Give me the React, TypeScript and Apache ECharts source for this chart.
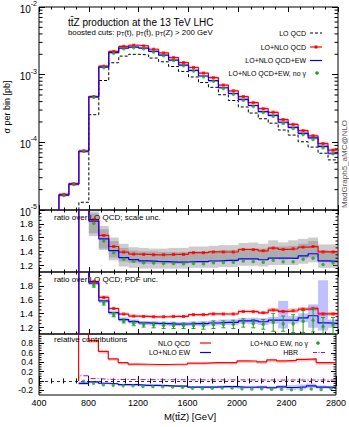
import React, { useEffect, useRef } from 'react';
import * as echarts from 'echarts';

const FONT = '"Liberation Sans", Arial, Helvetica, sans-serif';

// ---------- binning ----------
const binLow = [560, 640, 720, 800, 880, 960, 1040, 1120, 1200, 1280, 1360, 1440, 1520, 1600, 1680, 1760, 1840, 1920, 2000, 2080, 2160, 2240, 2320, 2400, 2480, 2560, 2640, 2720];
const X_MIN = 400;
const X_MAX = 2800;
const xTickStep = 400;

// ---------- main panel: sigma per bin [pb] ----------
const loQCD = [0, 0, 1.3e-5, 2.56e-4, 8.2e-4, 1.5e-3, 1.88e-3, 2.0e-3, 1.96e-3, 1.76e-3, 1.55e-3, 1.32e-3, 1.115e-3, 9.25e-4, 7.65e-4, 6.5e-4, 5.05e-4, 4.15e-4, 3.33e-4, 2.71e-4, 2.23e-4, 1.92e-4, 1.52e-4, 1.28e-4, 1.02e-4, 8.5e-5, 6.9e-5, 5.5e-5];
const nloQCD = [1.7e-5, 2.45e-5, 7.45e-5, 4.76e-4, 1.337e-3, 2.205e-3, 2.613e-3, 2.72e-3, 2.656e-3, 2.376e-3, 2.093e-3, 1.789e-3, 1.511e-3, 1.277e-3, 1.056e-3, 9.04e-4, 7.02e-4, 5.77e-4, 4.75e-4, 3.86e-4, 3.14e-4, 2.78e-4, 2.17e-4, 1.84e-4, 1.49e-4, 1.25e-4, 9.6e-5, 7.65e-5];
const nloQCDEW = [1.66e-5, 2.41e-5, 7.38e-5, 4.71e-4, 1.296e-3, 2.115e-3, 2.463e-3, 2.56e-3, 2.47e-3, 2.209e-3, 1.938e-3, 1.643e-3, 1.388e-3, 1.156e-3, 9.56e-4, 8.19e-4, 6.41e-4, 5.27e-4, 4.3e-4, 3.5e-4, 2.85e-4, 2.5e-4, 1.98e-4, 1.66e-4, 1.36e-4, 1.16e-4, 8.7e-5, 6.9e-5];
const nloQCDEWnoGamma = [1.64e-5, 2.38e-5, 7.44e-5, 4.63e-4, 1.271e-3, 2.07e-3, 2.425e-3, 2.51e-3, 2.421e-3, 2.165e-3, 1.899e-3, 1.617e-3, 1.36e-3, 1.133e-3, 9.33e-4, 8.03e-4, 6.26e-4, 5.15e-4, 4.2e-4, 3.39e-4, 2.77e-4, 2.44e-4, 1.9e-4, 1.6e-4, 1.31e-4, 1.105e-4, 8.35e-5, 6.77e-5];
const mainUncQCD = [0.06, 0.06, 0.06, 0.05, 0.04, 0.04, 0.04, 0.04, 0.04, 0.04, 0.04, 0.04, 0.045, 0.045, 0.045, 0.045, 0.05, 0.05, 0.05, 0.05, 0.05, 0.055, 0.055, 0.055, 0.06, 0.06, 0.06, 0.06];
const mainUncEW = [0.05, 0.05, 0.05, 0.04, 0.035, 0.035, 0.035, 0.035, 0.035, 0.035, 0.035, 0.035, 0.04, 0.04, 0.04, 0.04, 0.045, 0.045, 0.045, 0.045, 0.045, 0.05, 0.05, 0.05, 0.055, 0.055, 0.055, 0.055];
const logDecades = [-5, -4, -3, -2];

// ---------- panel 2: ratio over LO QCD, scale uncertainty ----------
const scaleQCDLow = [null, null, null, 1.62, 1.44, 1.31, 1.25, 1.23, 1.22, 1.22, 1.22, 1.22, 1.22, 1.24, 1.24, 1.25, 1.25, 1.25, 1.28, 1.28, 1.27, 1.3, 1.28, 1.29, 1.3, 1.31, 1.24, 1.24];
const scaleQCDHigh = [null, null, null, 1.95, 1.77, 1.6, 1.51, 1.46, 1.45, 1.44, 1.44, 1.45, 1.45, 1.47, 1.47, 1.48, 1.49, 1.49, 1.52, 1.53, 1.51, 1.56, 1.53, 1.56, 1.58, 1.6, 1.5, 1.5];
const scaleEWLow = [null, null, null, 1.66, 1.42, 1.27, 1.18, 1.16, 1.15, 1.15, 1.15, 1.15, 1.15, 1.16, 1.16, 1.16, 1.17, 1.17, 1.19, 1.19, 1.18, 1.2, 1.2, 1.2, 1.22, 1.24, 1.16, 1.16];
const scaleEWHigh = [null, null, null, 1.98, 1.72, 1.55, 1.45, 1.41, 1.4, 1.4, 1.39, 1.39, 1.39, 1.4, 1.4, 1.41, 1.42, 1.42, 1.45, 1.45, 1.44, 1.47, 1.47, 1.48, 1.51, 1.55, 1.42, 1.41];
const ratioTicks = [1.2, 1.4, 1.6, 1.8];

// ---------- panel 3: ratio over LO QCD, PDF uncertainty ----------
const pdfQCDLow = [null, null, null, 1.84, 1.61, 1.45, 1.37, 1.34, 1.335, 1.33, 1.33, 1.335, 1.335, 1.36, 1.36, 1.37, 1.37, 1.37, 1.4, 1.4, 1.39, 1.42, 1.4, 1.41, 1.43, 1.44, 1.36, 1.36];
const pdfQCDHigh = [null, null, null, 1.89, 1.66, 1.49, 1.41, 1.38, 1.375, 1.37, 1.37, 1.375, 1.375, 1.4, 1.4, 1.41, 1.41, 1.41, 1.45, 1.45, 1.43, 1.48, 1.45, 1.47, 1.49, 1.5, 1.42, 1.42];
const pdfEWLow = [null, null, null, 1.81, 1.55, 1.38, 1.28, 1.25, 1.23, 1.225, 1.22, 1.215, 1.215, 1.22, 1.215, 1.225, 1.23, 1.23, 1.25, 1.245, 1.23, 1.25, 1.18, 1.25, 1.27, 1.19, 1.15, 1.19];
const pdfEWHigh = [null, null, null, 1.87, 1.61, 1.44, 1.34, 1.31, 1.29, 1.285, 1.28, 1.275, 1.275, 1.28, 1.285, 1.295, 1.31, 1.31, 1.33, 1.335, 1.33, 1.35, 1.58, 1.36, 1.4, 1.53, 1.88, 1.31];
const noGammaErrLow = [null, null, null, 1.78, 1.52, 1.35, 1.26, 1.22, 1.2, 1.19, 1.18, 1.18, 1.18, 1.18, 1.17, 1.18, 1.19, 1.18, 1.2, 1.19, 1.17, 1.14, 1.14, 1.12, 1.12, 1.13, 1.08, 1.1];
const noGammaErrHigh = [null, null, null, 1.84, 1.58, 1.41, 1.32, 1.29, 1.27, 1.27, 1.27, 1.27, 1.26, 1.27, 1.27, 1.29, 1.29, 1.3, 1.32, 1.31, 1.31, 1.4, 1.36, 1.38, 1.44, 1.47, 1.34, 1.34];

// ---------- panel 4: relative contributions ----------
const hbrRel = [null, null, 0.11, 0.05, 0.035, 0.03, 0.03, 0.028, 0.027, 0.026, 0.025, 0.025, 0.024, 0.024, 0.023, 0.023, 0.022, 0.022, 0.022, 0.021, 0.021, 0.02, 0.02, 0.02, 0.02, 0.02, 0.02, 0.02];
const relUncQCD = [null, null, null, 0.05, 0.05, 0.04, 0.04, 0.04, 0.04, 0.04, 0.04, 0.04, 0.04, 0.04, 0.04, 0.04, 0.04, 0.04, 0.045, 0.045, 0.045, 0.05, 0.05, 0.05, 0.05, 0.05, 0.05, 0.05];
const relUncEW = [null, null, 0.03, 0.02, 0.02, 0.02, 0.02, 0.02, 0.02, 0.02, 0.02, 0.02, 0.02, 0.02, 0.02, 0.025, 0.025, 0.025, 0.03, 0.03, 0.03, 0.03, 0.035, 0.05, 0.05, 0.05, 0.035, 0.03];
const relTicks = [-0.2, 0, 0.2, 0.4, 0.6, 0.8];

// ---------- derived ----------
const N = binLow.length;
const binHigh = binLow.map((_, i) => (i < N - 1 ? binLow[i + 1] : X_MAX));
const binMid = binLow.map((v, i) => (v + binHigh[i]) / 2);
const overLO = (arr: number[]) => arr.map((v, i) => (loQCD[i] > 0 ? v / loQCD[i] : null));
const ratioQCD = overLO(nloQCD);
const ratioEW = overLO(nloQCDEW);
const ratioNoGamma = overLO(nloQCDEWnoGamma);
const relQCD = nloQCD.map((v, i) => (loQCD[i] > 0 ? (v - loQCD[i]) / loQCD[i] : null));
const relEW = nloQCDEW.map((v, i) => (loQCD[i] > 0 ? (v - nloQCD[i]) / loQCD[i] : null));
const relNoGamma = nloQCDEWnoGamma.map((v, i) => (loQCD[i] > 0 ? (v - nloQCD[i]) / loQCD[i] : null));
const loQCDPlot = loQCD.map((v) => (v > 0 ? v : null));

const RED = '#ff0000';
const BLUE = '#0000ff';
const GREEN = '#1fa01f';
const PURPLE = '#c000c0';

function stepData(vals: (number | null)[], base?: number) {
  const pts: number[][] = [];
  let last = -1;
  vals.forEach((v, i) => {
    if (v == null) return;
    if (last < 0 && base !== undefined) pts.push([binLow[i], base]);
    pts.push([binLow[i], v]);
    last = i;
  });
  if (last >= 0) pts.push([binHigh[last], vals[last] as number]);
  return pts;
}

function stepLine(ai: number, data: number[][], color: string, width: number, type: any, z: number) {
  return {
    type: 'line', xAxisIndex: ai, yAxisIndex: ai, data, step: 'end', symbol: 'none', silent: true,
    z, clip: true, lineStyle: { color, width, type },
  };
}

function points(ai: number, vals: (number | null)[], color: string, symbol: string, size: number, z: number) {
  const data: number[][] = [];
  vals.forEach((v, i) => { if (v != null) data.push([binMid[i], v]); });
  return { type: 'scatter', xAxisIndex: ai, yAxisIndex: ai, data, symbol, symbolSize: size, itemStyle: { color }, z, silent: true, clip: true };
}

function band(ai: number, lo: (number | null)[], hi: (number | null)[], color: string, z: number) {
  const data: number[][] = [];
  lo.forEach((l, i) => { const h = hi[i]; if (l != null && h != null) data.push([binLow[i], binHigh[i], l, h]); });
  return {
    type: 'custom', xAxisIndex: ai, yAxisIndex: ai, silent: true, z, clip: true,
    encode: { x: [0, 1], y: [2, 3] }, data,
    renderItem: (_p: any, api: any) => {
      const a = api.coord([api.value(0), api.value(3)]);
      const b = api.coord([api.value(1), api.value(2)]);
      return { type: 'rect', shape: { x: a[0], y: a[1], width: b[0] - a[0], height: b[1] - a[1] }, style: { fill: color } };
    },
  };
}

function errorBars(ai: number, lo: (number | null)[], hi: (number | null)[], color: string, z: number) {
  const data: number[][] = [];
  lo.forEach((l, i) => { const h = hi[i]; if (l != null && h != null) data.push([binMid[i], l, h]); });
  return {
    type: 'custom', xAxisIndex: ai, yAxisIndex: ai, silent: true, z, clip: true,
    encode: { x: 0, y: [1, 2] }, data,
    renderItem: (_p: any, api: any) => {
      const a = api.coord([api.value(0), api.value(2)]);
      const b = api.coord([api.value(0), api.value(1)]);
      const st = { stroke: color, lineWidth: 1 };
      return {
        type: 'group', children: [
          { type: 'line', shape: { x1: a[0], y1: a[1], x2: b[0], y2: b[1] }, style: st },
          { type: 'line', shape: { x1: a[0] - 2, y1: a[1], x2: a[0] + 2, y2: a[1] }, style: st },
          { type: 'line', shape: { x1: b[0] - 2, y1: b[1], x2: b[0] + 2, y2: b[1] }, style: st },
        ],
      };
    },
  };
}

function minorTicks(ai: number, values: number[], len: number) {
  return {
    type: 'custom', xAxisIndex: ai, yAxisIndex: ai, silent: true, z: 30, clip: false,
    encode: { x: 0, y: 1 }, data: values.map((v) => [X_MIN, v]),
    renderItem: (_p: any, api: any) => {
      const v = api.value(1);
      const l = api.coord([X_MIN, v]);
      const r = api.coord([X_MAX, v]);
      const st = { stroke: '#000', lineWidth: 1 };
      return {
        type: 'group', children: [
          { type: 'line', shape: { x1: l[0], y1: l[1], x2: l[0] + len, y2: l[1] }, style: st },
          { type: 'line', shape: { x1: r[0] - len, y1: r[1], x2: r[0], y2: r[1] }, style: st },
        ],
      };
    },
  };
}

function linearMinor(minK: number, maxK: number) {
  const out: number[] = [];
  for (let k = minK + 1; k < maxK; k++) if (k % 4 !== 0) out.push(k * 0.05);
  return out;
}

function logMinor() {
  const out: number[] = [];
  for (let d = logDecades[0]; d < logDecades[logDecades.length - 1]; d++) for (let m = 2; m <= 9; m++) out.push(m * Math.pow(10, d));
  return out;
}

function buildOption() {
  const panels = [
    { top: 6, height: 204 },
    { top: 210, height: 62 },
    { top: 272, height: 62 },
    { top: 334, height: 61 },
  ];
  const grid = panels.map((p) => ({ left: 39, right: 11, top: p.top, height: p.height, show: true, borderColor: '#000', borderWidth: 1, backgroundColor: 'transparent' }));

  const tick = (len: number) => ({ show: true, inside: true, length: len, lineStyle: { color: '#000', width: 1 } });
  const mkX = (g: number, pos: string) => ({
    type: 'value', gridIndex: g, position: pos, min: X_MIN, max: X_MAX, interval: xTickStep,
    axisLine: { show: false }, splitLine: { show: false },
    axisTick: tick(5), minorTick: { show: true, splitNumber: 4, length: 2.5, lineStyle: { color: '#000', width: 1 } },
    axisLabel: g === 3 && pos === 'bottom'
      ? { show: true, fontSize: 9, color: '#000', fontFamily: FONT, margin: 3, showMinLabel: true, showMaxLabel: true, formatter: (v: number) => String(v) }
      : { show: false },
  });
  const xAxis = [0, 1, 2, 3].map((g) => mkX(g, 'bottom')).concat([0, 1, 2, 3].map((g) => mkX(g, 'top')));

  const mkY = (g: number, pos: string, labels: boolean) => {
    const base: any = { gridIndex: g, position: pos, axisLine: { show: false }, splitLine: { show: false } };
    if (g === 0) {
      return {
        ...base, type: 'log', logBase: 10, min: Math.pow(10, logDecades[0]), max: Math.pow(10, logDecades[logDecades.length - 1]),
        axisTick: tick(6),
        axisLabel: labels ? {
          show: true, margin: 2, showMinLabel: true, showMaxLabel: true,
          formatter: (v: number) => `{b|10}{s|${Math.round(Math.log10(v))}}`,
          rich: {
            b: { fontSize: 10, fontFamily: FONT, color: '#000', verticalAlign: 'bottom', lineHeight: 14 },
            s: { fontSize: 7, fontFamily: FONT, color: '#000', verticalAlign: 'top', lineHeight: 7 },
          },
        } : { show: false },
      };
    }
    const isRel = g === 3;
    const ticks = isRel ? relTicks : ratioTicks;
    return {
      ...base, type: 'value', min: isRel ? -0.3 : 1.1, max: isRel ? 1.0 : 2.0,
      axisTick: { ...tick(5), customValues: ticks },
      axisLabel: labels ? {
        show: true, customValues: ticks, fontSize: isRel ? 8.5 : 9.5, lineHeight: isRel ? 9 : 11,
        color: '#000', fontFamily: FONT, margin: 6, showMinLabel: true, showMaxLabel: true,
        formatter: (v: number) => (Math.abs(v) < 1e-9 ? '0' : v.toFixed(1)),
      } : { show: false, customValues: ticks },
    };
  };
  const yAxis = [0, 1, 2, 3].map((g) => mkY(g, 'left', true)).concat([0, 1, 2, 3].map((g) => mkY(g, 'right', false)));

  const series: any[] = [];
  // ---- main panel ----
  series.push(band(0, nloQCD.map((v, i) => v * (1 - mainUncQCD[i])), nloQCD.map((v, i) => v * (1 + mainUncQCD[i])), 'rgba(255,0,0,0.22)', 1));
  series.push(band(0, nloQCDEW.map((v, i) => v * (1 - mainUncEW[i])), nloQCDEW.map((v, i) => v * (1 + mainUncEW[i])), 'rgba(0,0,255,0.22)', 2));
  series.push(stepLine(0, stepData(loQCDPlot, 1e-7), '#000', 1, [3, 2], 5));
  series.push(stepLine(0, stepData(nloQCD, 1e-7), RED, 1.2, 'solid', 6));
  series.push(stepLine(0, stepData(nloQCDEW, 1e-7), BLUE, 1.2, 'solid', 7));
  series.push(points(0, nloQCD, RED, 'rect', 3, 8));
  series.push(points(0, nloQCDEWnoGamma, GREEN, 'circle', 3.5, 9));
  series.push(minorTicks(0, logMinor(), 3.5));

  // ---- panel 2 ----
  series.push(band(1, scaleQCDLow, scaleQCDHigh, 'rgba(120,120,120,0.38)', 1));
  series.push(band(1, scaleEWLow, scaleEWHigh, 'rgba(120,120,120,0.38)', 2));
  series.push(stepLine(1, stepData(ratioQCD, 0), RED, 1.2, 'solid', 6));
  series.push(stepLine(1, stepData(ratioEW, 0), BLUE, 1.2, 'solid', 7));
  series.push(points(1, ratioQCD, RED, 'rect', 3, 8));
  series.push(points(1, ratioNoGamma, GREEN, 'circle', 3.5, 9));
  series.push(minorTicks(1, linearMinor(22, 40), 2.5));

  // ---- panel 3 ----
  series.push(band(2, pdfQCDLow, pdfQCDHigh, 'rgba(255,0,0,0.25)', 1));
  series.push(band(2, pdfEWLow, pdfEWHigh, 'rgba(60,60,255,0.32)', 2));
  series.push(stepLine(2, stepData(ratioQCD, 0), RED, 1.2, 'solid', 6));
  series.push(stepLine(2, stepData(ratioEW, 0), BLUE, 1.2, 'solid', 7));
  series.push(points(2, ratioQCD, RED, 'rect', 3, 8));
  series.push(errorBars(2, noGammaErrLow, noGammaErrHigh, GREEN, 9));
  series.push(points(2, ratioNoGamma, GREEN, 'circle', 3.5, 10));
  series.push(minorTicks(2, linearMinor(22, 40), 2.5));

  // ---- panel 4 ----
  series.push(band(3, relQCD.map((v, i) => (v == null || relUncQCD[i] == null ? null : v - (relUncQCD[i] as number))), relQCD.map((v, i) => (relUncQCD[i] == null ? null : v)), 'rgba(255,0,0,0.25)', 1));
  series.push(band(3, relEW.map((v, i) => (v == null || relUncEW[i] == null ? null : v - (relUncEW[i] as number))), relEW.map((v, i) => (v == null || relUncEW[i] == null ? null : v + (relUncEW[i] as number))), 'rgba(60,60,255,0.3)', 2));
  series.push({
    ...stepLine(3, stepData(hbrRel, 0), PURPLE, 1, [5, 2, 1, 2], 5),
    markLine: { silent: true, symbol: 'none', label: { show: false }, lineStyle: { color: '#000', width: 0.8, type: [3, 3] }, data: [{ yAxis: 0 }] },
  });
  series.push(stepLine(3, stepData(relQCD, 0), RED, 1.2, 'solid', 6));
  series.push(stepLine(3, stepData(relEW), BLUE, 1.2, 'solid', 7));
  series.push(points(3, relNoGamma, GREEN, 'circle', 3.5, 9));
  series.push(minorTicks(3, linearMinor(-6, 20), 2.5));

  const txt = (x: number, y: number, text: string, size: number, align = 'left', extra: any = {}) => ({
    type: 'text', x, y, z: 100, silent: true,
    style: { text, font: `${size}px ${FONT}`, fill: '#000', textAlign: align, textVerticalAlign: 'middle', ...extra },
  });
  const ln = (x1: number, y1: number, x2: number, y2: number, stroke: string, lineDash?: number[]) => ({
    type: 'line', z: 100, silent: true, shape: { x1, y1, x2, y2 }, style: { stroke, lineWidth: 1.2, lineDash },
  });
  const dot = (cx: number, cy: number, fill: string) => ({ type: 'circle', z: 101, silent: true, shape: { cx, cy, r: 1.8 }, style: { fill } });
  const sq = (cx: number, cy: number, fill: string) => ({ type: 'rect', z: 101, silent: true, shape: { x: cx - 1.5, y: cy - 1.5, width: 3, height: 3 }, style: { fill } });

  const graphic: any[] = [
    txt(68, 22, 'tt\u0304Z production at the 13 TeV LHC', 10),
    {
      type: 'text', x: 68, y: 32.5, z: 100, silent: true,
      style: {
        text: '{n|boosted cuts: p}{s|T}{n|(t), p}{s|T}{n|(t\u0304), p}{s|T}{n|(Z) > 200 GeV}',
        textVerticalAlign: 'middle',
        rich: {
          n: { fontSize: 7.8, fontFamily: FONT, color: '#000', verticalAlign: 'top', lineHeight: 9 },
          s: { fontSize: 5.5, fontFamily: FONT, color: '#000', verticalAlign: 'bottom', lineHeight: 5 },
        },
      },
    },
    // main legend
    txt(306, 33, 'LO QCD', 7, 'right'),
    ln(310, 33, 322, 33, '#000', [3, 2]),
    txt(306, 47, 'LO+NLO QCD', 7, 'right'),
    ln(310, 47, 322, 47, RED),
    sq(316, 47, RED),
    txt(306, 60.5, 'LO+NLO QCD+EW', 7, 'right'),
    ln(310, 60.5, 322, 60.5, BLUE),
    txt(306, 73, 'LO+NLO QCD+EW, no \u03b3', 7, 'right'),
    dot(317, 73, GREEN),
    // side texts
    { ...txt(7, 107, '\u03c3 per bin [pb]', 9, 'center'), rotation: Math.PI / 2 },
    { ...txt(344, 164, 'MadGraph5_aMC@NLO', 8, 'center', { fill: '#555' }), rotation: Math.PI / 2 },
    // panel labels
    txt(54, 217, 'ratio over LO QCD; scale unc.', 8),
    txt(54, 279, 'ratio over LO QCD; PDF unc.', 8),
    txt(54, 339.5, 'relative contributions', 8),
    // panel 4 legend
    txt(190, 343, 'NLO QCD', 7, 'right'),
    ln(200, 343, 211, 343, RED),
    txt(190, 352.5, 'LO+NLO EW', 7, 'right'),
    ln(200, 352.5, 211, 352.5, BLUE),
    txt(308, 343, 'LO+NLO EW, no \u03b3', 7, 'right'),
    dot(318, 343, GREEN),
    txt(298, 352.5, 'HBR', 7, 'right'),
    ln(313, 352.5, 326, 352.5, PURPLE, [4, 1.5, 1, 1.5]),
    // x title
    txt(190, 416, 'M(tt\u0304Z) [GeV]', 9.5, 'center'),
  ];

  return {
    animation: false,
    backgroundColor: '#fff',
    grid,
    xAxis,
    yAxis,
    series,
    graphic,
  };
}

export default function App() {
  const ref = useRef<HTMLDivElement>(null);
  useEffect(() => {
    if (!ref.current) return;
    const chart = echarts.init(ref.current, null, { renderer: 'svg' });
    chart.setOption(buildOption() as any);
    return () => chart.dispose();
  }, []);
  return <div ref={ref} style={{ position: 'fixed', left: 0, top: 0, width: 349, height: 427, background: '#fff' }} />;
}
